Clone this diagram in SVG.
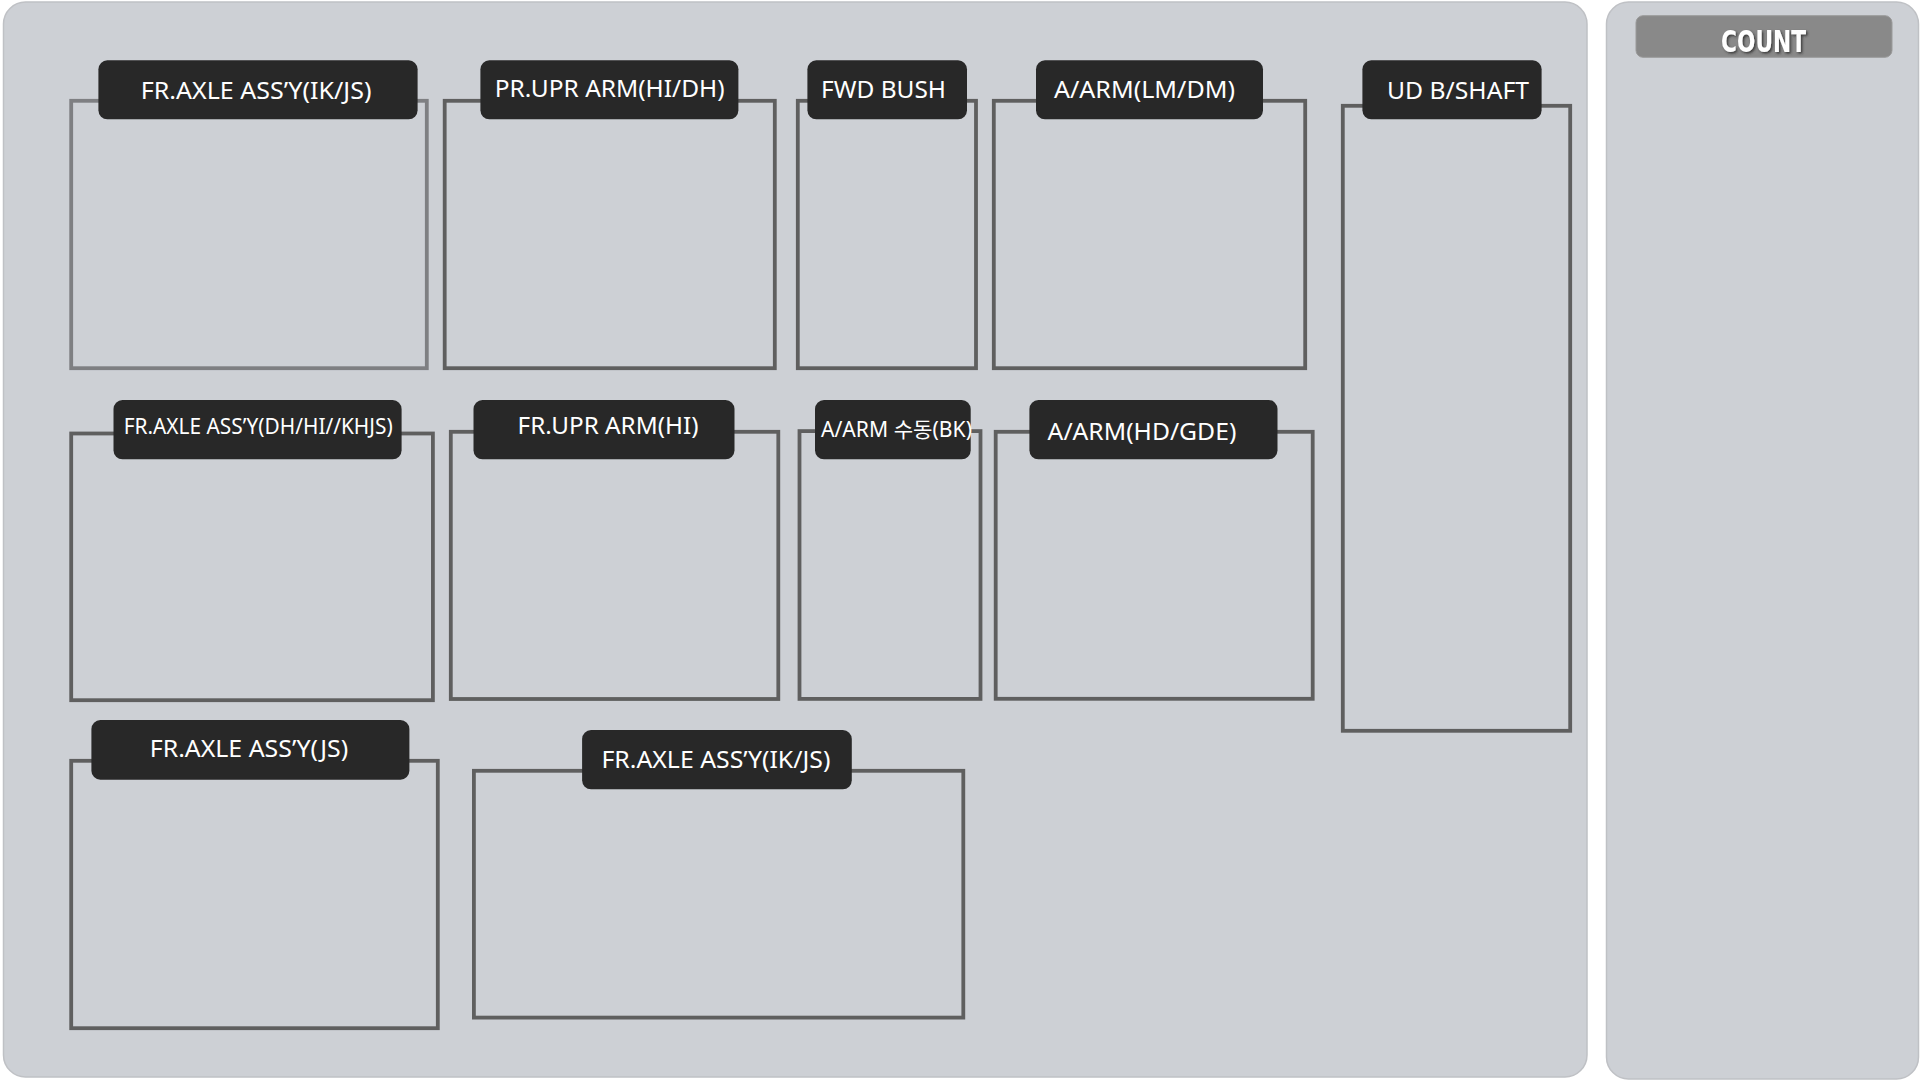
<svg xmlns="http://www.w3.org/2000/svg" width="1920" height="1080" viewBox="0 0 1920 1080">
  <defs>
    <style>
      .panel { fill: #cdd0d5; stroke: #bfc1c5; stroke-width: 1.5; }
      .box { fill: none; stroke: #5f5f5f; stroke-width: 3.8; }
      .box.light { stroke: #7e7f82; }
      .tag { fill: #282828; }
      .lbl { font-family: "Noto Sans", "Noto Sans CJK KR", sans-serif; fill: #ffffff; font-size: 24px; }
      .sm { font-size: 21px; }
      .count { font-family: "Liberation Sans Narrow", "DejaVu Sans Condensed", "Liberation Sans", sans-serif; font-weight: bold; font-size: 31px; fill: #ffffff; }
    </style>
    <filter id="shadow" x="-20%" y="-30%" width="140%" height="160%">
      <feDropShadow dx="1.5" dy="1.5" stdDeviation="0.8" flood-color="#2a2a2a" flood-opacity="0.85"/>
    </filter>
  </defs>

  <rect width="1920" height="1080" fill="#ffffff"/>

  <g id="panel-main">
    <rect class="panel" x="3.5" y="2" width="1583.5" height="1075" rx="22" ry="22"/>
  </g>

  <g id="panel-count">
    <rect class="panel" x="1606.5" y="2" width="312" height="1077" rx="22" ry="22"/>
    <rect x="1636" y="15.7" width="256" height="41.6" rx="7" ry="7" fill="#898989" stroke="#9a9a9a" stroke-width="1"/>
    <text class="count" x="1721" y="51.7" textLength="85" lengthAdjust="spacingAndGlyphs" filter="url(#shadow)">COUNT</text>
  </g>

  <g id="connectors"></g>

  <g id="node-fr-axle-ikjs-1">
    <rect class="box light" x="71.2" y="100.8" width="355.6" height="267.4"/>
    <rect class="tag" x="98.4" y="60.3" width="319.2" height="59" rx="9" ry="9"/>
    <text class="lbl" x="140.8" y="99" textLength="230.6" lengthAdjust="spacingAndGlyphs">FR.AXLE ASS’Y(IK/JS)</text>
  </g>

  <g id="node-pr-upr-arm">
    <rect class="box" x="444.7" y="100.8" width="330.1" height="267.4"/>
    <rect class="tag" x="480.4" y="60.3" width="258" height="59" rx="9" ry="9"/>
    <text class="lbl" x="494.7" y="97" textLength="229.9" lengthAdjust="spacingAndGlyphs">PR.UPR ARM(HI/DH)</text>
  </g>

  <g id="node-fwd-bush">
    <rect class="box" x="797.8" y="100.8" width="178.2" height="267.4"/>
    <rect class="tag" x="807.4" y="60.3" width="159.6" height="59" rx="9" ry="9"/>
    <text class="lbl" x="821" y="97.7" textLength="125" lengthAdjust="spacingAndGlyphs">FWD BUSH</text>
  </g>

  <g id="node-a-arm-lmdm">
    <rect class="box" x="993.8" y="100.8" width="311.4" height="267.4"/>
    <rect class="tag" x="1036" y="60.3" width="227" height="59" rx="9" ry="9"/>
    <text class="lbl" x="1054" y="97.5" textLength="181" lengthAdjust="spacingAndGlyphs">A/ARM(LM/DM)</text>
  </g>

  <g id="node-ud-bshaft">
    <rect class="box" x="1342.8" y="105.8" width="227.4" height="625"/>
    <rect class="tag" x="1362.4" y="60.3" width="179.2" height="59" rx="9" ry="9"/>
    <text class="lbl" x="1387" y="99" textLength="142" lengthAdjust="spacingAndGlyphs">UD B/SHAFT</text>
  </g>

  <g id="node-fr-axle-dhhikhjs">
    <rect class="box" x="71.2" y="433.5" width="361.7" height="266.7"/>
    <rect class="tag" x="113.5" y="400" width="288.1" height="59.3" rx="9" ry="9"/>
    <text class="lbl sm" x="123.7" y="434" textLength="269" lengthAdjust="spacingAndGlyphs">FR.AXLE ASS’Y(DH/HI//KHJS)</text>
  </g>

  <g id="node-fr-upr-arm-hi">
    <rect class="box" x="450.8" y="431.8" width="327.5" height="267.2"/>
    <rect class="tag" x="473.5" y="400" width="261" height="59.3" rx="9" ry="9"/>
    <text class="lbl" x="517.6" y="434" textLength="180.9" lengthAdjust="spacingAndGlyphs">FR.UPR ARM(HI)</text>
  </g>

  <g id="node-a-arm-manual-bk">
    <rect class="box" x="799.5" y="431.1" width="181" height="267.8"/>
    <rect class="tag" x="815" y="400" width="155.7" height="59.3" rx="9" ry="9"/>
    <text class="lbl sm" x="821" y="436.7" textLength="151" lengthAdjust="spacingAndGlyphs">A/ARM 수동(BK)</text>
  </g>

  <g id="node-a-arm-hdgde">
    <rect class="box" x="995.7" y="431.8" width="317" height="267"/>
    <rect class="tag" x="1029.4" y="400" width="248.1" height="59.3" rx="9" ry="9"/>
    <text class="lbl" x="1047.6" y="440" textLength="188.7" lengthAdjust="spacingAndGlyphs">A/ARM(HD/GDE)</text>
  </g>

  <g id="node-fr-axle-js">
    <rect class="box" x="71.2" y="760.8" width="366.6" height="267.4"/>
    <rect class="tag" x="91.4" y="720" width="318" height="59.7" rx="9" ry="9"/>
    <text class="lbl" x="149.8" y="757.3" textLength="198.4" lengthAdjust="spacingAndGlyphs">FR.AXLE ASS’Y(JS)</text>
  </g>

  <g id="node-fr-axle-ikjs-2">
    <rect class="box" x="473.9" y="770.8" width="489.4" height="246.8"/>
    <rect class="tag" x="582.1" y="730" width="269.7" height="59.3" rx="9" ry="9"/>
    <text class="lbl" x="601.4" y="768.3" textLength="229" lengthAdjust="spacingAndGlyphs">FR.AXLE ASS’Y(IK/JS)</text>
  </g>
</svg>
